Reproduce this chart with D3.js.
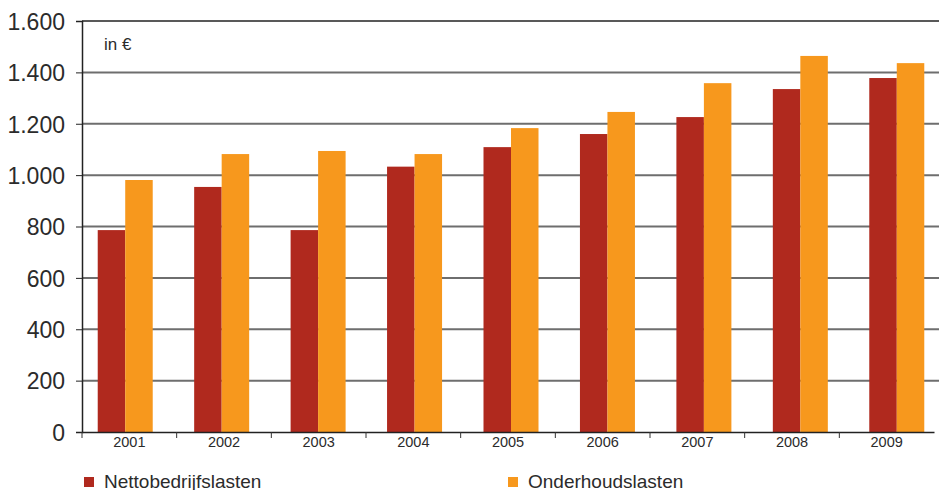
<!DOCTYPE html>
<html>
<head>
<meta charset="utf-8">
<script src="https://d3js.org/d3.v7.min.js"></script>
<style>
body { margin: 0; background: #fff; font-family: "Liberation Sans", Arial, sans-serif; }
</style>
</head>
<body>
<script>
// data
var years = ["2001","2002","2003","2004","2005","2006","2007","2008","2009"];
var netto = [786, 954, 786, 1033, 1109, 1160, 1226, 1335, 1378];
var onderhoud = [981, 1082, 1094, 1082, 1183, 1246, 1358, 1464, 1436];
var seriesNames = ["Nettobedrijfslasten", "Onderhoudslasten"];
var seriesColors = ["#b0291e", "#f7981d"];
var yTicks = [0, 200, 400, 600, 800, 1000, 1200, 1400, 1600];

var width = 939, height = 490;
var plotLeft = 82, plotRight = 934, plotTop = 21, plotBottom = 432;

var svg = d3.select("body").append("svg")
    .attr("width", width)
    .attr("height", height);

// axis categories and bar groups are spaced a little differently in the original
var x = d3.scaleBand().domain(years).range([plotLeft, plotRight]);
var xBars = d3.scaleBand().domain(years).range([77, 945]);
var xs = d3.scaleBand().domain([0, 1]).range([0, 55]);
var y = d3.scaleLinear().domain([0, 1600]).range([plotBottom, plotTop]);

var fmt = function(v) { return d3.format(",")(v).replace(/,/g, "."); };

// gridlines
svg.append("g").selectAll("line")
    .data(yTicks.filter(function(d){ return d > 0 && d < 1600; }))
    .enter().append("line")
    .attr("x1", plotLeft).attr("x2", width)
    .attr("y1", function(d){ return y(d); })
    .attr("y2", function(d){ return y(d); })
    .attr("stroke", "#6e6e6e")
    .attr("stroke-width", 2);

// top line
svg.append("line")
    .attr("x1", plotLeft).attr("x2", width)
    .attr("y1", y(1600)).attr("y2", y(1600))
    .attr("stroke", "#222").attr("stroke-width", 1.5);

// bars
var groups = svg.append("g").selectAll("g")
    .data(years)
    .enter().append("g")
    .attr("transform", function(d){ return "translate(" + (xBars(d) + xBars.bandwidth()/2 - 27.5) + ",0)"; });

groups.selectAll("rect")
    .data(function(d, i){ return [netto[i], onderhoud[i]]; })
    .enter().append("rect")
    .attr("x", function(d, j){ return xs(j); })
    .attr("width", xs.bandwidth())
    .attr("y", function(d){ return y(d); })
    .attr("height", function(d){ return plotBottom - y(d); })
    .attr("fill", function(d, j){ return seriesColors[j]; });

// y axis
var yAxis = svg.append("g")
    .attr("transform", "translate(" + plotLeft + ",0)")
    .call(d3.axisLeft(y).tickValues(yTicks).tickFormat(fmt).tickSize(6).tickPadding(11));
yAxis.select(".domain").attr("stroke", "#222").attr("stroke-width", 1.5);
yAxis.selectAll(".tick line").attr("stroke", "#222");
yAxis.selectAll("text")
    .attr("font-family", "Liberation Sans, Arial, sans-serif")
    .attr("font-size", 23)
    .attr("fill", "#2b2b2b")
    .attr("dy", "0.36em");

// x axis
var xAxis = svg.append("g")
    .attr("transform", "translate(0," + plotBottom + ")")
    .call(d3.axisBottom(x).tickSize(0).tickPadding(5));
xAxis.select(".domain").attr("stroke", "#222").attr("stroke-width", 1.5);
xAxis.selectAll("text")
    .attr("font-family", "Liberation Sans, Arial, sans-serif")
    .attr("font-size", 14.5)
    .attr("fill", "#2b2b2b");
// band boundary ticks
svg.append("g").selectAll("line")
    .data(years)
    .enter().append("line")
    .attr("x1", function(d){ return x(d); })
    .attr("x2", function(d){ return x(d); })
    .attr("y1", plotBottom).attr("y2", plotBottom + 6)
    .attr("stroke", "#333").attr("stroke-width", 1);

// unit label
svg.append("text")
    .attr("x", 104).attr("y", 50)
    .attr("font-size", 17)
    .attr("fill", "#2b2b2b")
    .text("in €");

// legend
var legend = svg.append("g").selectAll("g")
    .data(seriesNames)
    .enter().append("g")
    .attr("transform", function(d, i){ return "translate(" + (84 + i * 424) + ",477)"; });
legend.append("rect")
    .attr("width", 10).attr("height", 10)
    .attr("fill", function(d, i){ return seriesColors[i]; });
legend.append("text")
    .attr("x", 20).attr("y", 11)
    .attr("font-size", 19)
    .attr("fill", "#2b2b2b")
    .text(function(d){ return d; });
</script>
</body>
</html>
